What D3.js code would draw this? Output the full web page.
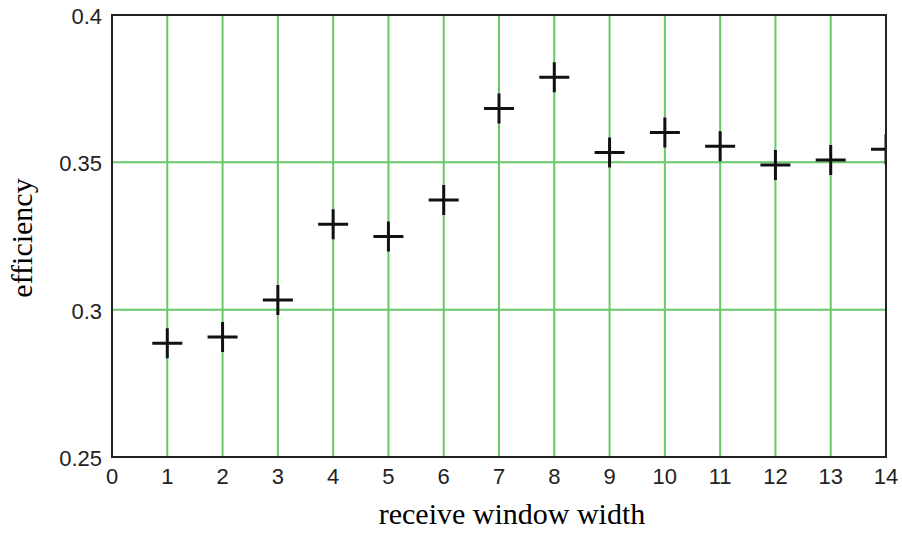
<!DOCTYPE html>
<html>
<head>
<meta charset="utf-8">
<script src="https://cdn.jsdelivr.net/npm/d3@7"></script>
<style>
  body { margin: 0; background: #fff; }
  .tick-label { font-family: "Liberation Sans", Arial, sans-serif; font-size: 22px; fill: #222; }
  .axis-title { font-family: "Liberation Serif", "Times New Roman", serif; font-size: 30px; fill: #000; }
</style>
</head>
<body>
<script>
// receive window width vs efficiency
var windowWidth = [1, 2, 3, 4, 5, 6, 7, 8, 9, 10, 11, 12, 13, 14];
var efficiency = [0.2886, 0.2907, 0.3033, 0.3290, 0.3248, 0.3372, 0.3683, 0.3789,
                  0.3533, 0.3601, 0.3555, 0.3491, 0.3508, 0.3544];
var xTicks = [0, 1, 2, 3, 4, 5, 6, 7, 8, 9, 10, 11, 12, 13, 14];
var yTicks = [0.25, 0.3, 0.35, 0.4];

var margin = {top: 15, right: 16, bottom: 76, left: 112},
    width = 902 - margin.left - margin.right,
    height = 533 - margin.top - margin.bottom;

var svg = d3.select("body")
    .append("svg")
    .attr("width", 902)
    .attr("height", 533)
    .append("g")
    .attr("transform", "translate(" + margin.left + "," + margin.top + ")");

var x = d3.scaleLinear().domain([0, 14]).range([0, width]),
    y = d3.scaleLinear().domain([0.25, 0.4]).range([height, 0]);

svg.append("defs").append("clipPath")
    .attr("id", "plot-clip")
  .append("rect")
    .attr("x", 0).attr("y", 0)
    .attr("width", width + 1).attr("height", height);

// green gridlines on interior ticks
svg.selectAll(".vgrid")
    .data(xTicks.slice(1, -1))
    .enter().append("line")
    .attr("x1", function(d) { return x(d); })
    .attr("x2", function(d) { return x(d); })
    .attr("y1", 0).attr("y2", height)
    .attr("stroke", "#66c866")
    .attr("stroke-width", 2);

svg.selectAll(".hgrid")
    .data(yTicks.slice(1, -1))
    .enter().append("line")
    .attr("y1", function(d) { return y(d); })
    .attr("y2", function(d) { return y(d); })
    .attr("x1", 0).attr("x2", width)
    .attr("stroke", "#66c866")
    .attr("stroke-width", 2);

// plus markers
svg.append("g").attr("clip-path", "url(#plot-clip)")
    .selectAll(".pt")
    .data(windowWidth.map(function(d, i) { return {w: d, e: efficiency[i]}; }))
    .enter().append("path")
    .attr("d", function(d) {
      var cx = x(d.w), cy = y(d.e);
      return "M" + (cx - 15) + "," + cy + "H" + (cx + 15) +
             "M" + cx + "," + (cy - 15) + "V" + (cy + 15);
    })
    .attr("stroke", "#111")
    .attr("stroke-width", 3)
    .attr("fill", "none");

// frame
svg.append("rect")
    .attr("x", 0).attr("y", 0)
    .attr("width", width).attr("height", height)
    .attr("fill", "none")
    .attr("stroke", "#222")
    .attr("stroke-width", 2);

// tick labels
svg.selectAll(".xl")
    .data(xTicks)
    .enter().append("text")
    .attr("class", "tick-label")
    .attr("x", function(d) { return x(d); })
    .attr("y", height + 27)
    .attr("text-anchor", "middle")
    .text(function(d) { return d; });

svg.selectAll(".yl")
    .data(yTicks)
    .enter().append("text")
    .attr("class", "tick-label")
    .attr("x", -10)
    .attr("y", function(d) { return y(d) + 9; })
    .attr("text-anchor", "end")
    .text(function(d) { return d; });

// axis titles
svg.append("text")
    .attr("class", "axis-title")
    .attr("x", width / 2 + 13)
    .attr("y", height + 67)
    .attr("text-anchor", "middle")
    .text("receive window width");

svg.append("text")
    .attr("class", "axis-title")
    .attr("transform", "rotate(-90)")
    .attr("x", -(height / 2 + 2))
    .attr("y", -80)
    .attr("text-anchor", "middle")
    .text("efficiency");
</script>
</body>
</html>
